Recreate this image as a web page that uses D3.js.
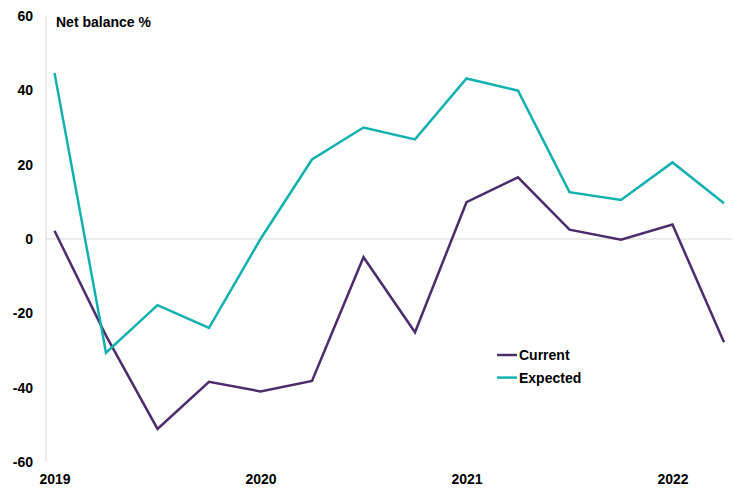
<!DOCTYPE html>
<html>
<head>
<meta charset="utf-8">
<script src="https://cdn.jsdelivr.net/npm/d3@7"></script>
<style>
  html, body { margin: 0; padding: 0; background: #ffffff; }
  svg { display: block; font-family: "Liberation Sans", Arial, sans-serif; }
</style>
</head>
<body>
<svg id="chart" width="737" height="491"></svg>
<script>
// Quarterly survey net balances, 2019 Q1 – 2022 Q2
const quarters = ["2019 Q1","2019 Q2","2019 Q3","2019 Q4","2020 Q1","2020 Q2","2020 Q3","2020 Q4",
                  "2021 Q1","2021 Q2","2021 Q3","2021 Q4","2022 Q1","2022 Q2"];
const current  = [2.2, -26, -51.1, -38.4, -41.0, -38.2, -4.9, -25.1, 9.9, 16.6, 2.5, -0.2, 3.9, -27.8];
const expected = [44.7, -30.6, -17.8, -23.9, 0, 21.4, 30.0, 26.8, 43.2, 39.9, 12.6, 10.5, 20.6, 9.6];
const yTicks = [60, 40, 20, 0, -20, -40, -60];
const yearLabels = ["2019", "2020", "2021", "2022"];
const yearStartIndex = [0, 4, 8, 12];

const seriesList = [
  { name: "Current",  values: current,  color: "#4b2d6b" },
  { name: "Expected", values: expected, color: "#12b1b0" }
];

const svg = d3.select("#chart");

const x = d3.scaleLinear().domain([0, quarters.length - 1]).range([54.5, 724]);
const y = d3.scaleLinear().domain([-60, 60]).range([462, 16]);

// vertical axis line
svg.append("line")
  .attr("x1", 46).attr("x2", 46)
  .attr("y1", y(60)).attr("y2", y(-60))
  .attr("stroke", "#d9d9d9").attr("stroke-width", 1);

// zero reference line
svg.append("line")
  .attr("x1", 46).attr("x2", 732)
  .attr("y1", y(0)).attr("y2", y(0))
  .attr("stroke", "#d9d9d9").attr("stroke-width", 1);

// y tick labels (plain hyphen for negatives)
const yAxis = d3.axisLeft(y).tickValues(yTicks).tickSize(0).tickPadding(0)
  .tickFormat(d => String(d));
const yG = svg.append("g").attr("transform", "translate(33,0)").call(yAxis);
yG.select(".domain").remove();
yG.selectAll("text")
  .attr("font-family", "Liberation Sans, Arial, sans-serif")
  .attr("font-size", 14).attr("font-weight", "bold").attr("fill", "#000");

// x year labels
const xAxis = d3.axisBottom(x).tickValues(yearStartIndex).tickSize(0).tickPadding(0)
  .tickFormat((d, i) => yearLabels[i]);
const xG = svg.append("g").attr("transform", "translate(0,474)").call(xAxis);
xG.select(".domain").remove();
xG.selectAll("text")
  .attr("font-family", "Liberation Sans, Arial, sans-serif")
  .attr("font-size", 14).attr("font-weight", "bold").attr("fill", "#000");

// axis title
svg.append("text")
  .attr("x", 56).attr("y", 27)
  .attr("font-size", 14).attr("font-weight", "bold").attr("fill", "#000")
  .text("Net balance %");

// series lines
const line = d3.line().x((d, i) => x(i)).y(d => y(d));
svg.selectAll("path.series")
  .data(seriesList)
  .join("path")
  .attr("class", "series")
  .attr("d", s => line(s.values))
  .attr("fill", "none")
  .attr("stroke", s => s.color)
  .attr("stroke-width", 2.5)
  .attr("stroke-linejoin", "miter");

// legend
const legend = svg.append("g").attr("transform", "translate(497,355)");
const item = legend.selectAll("g")
  .data(seriesList)
  .join("g")
  .attr("transform", (d, i) => `translate(0,${i * 22.6})`);
item.append("line")
  .attr("x1", 0).attr("x2", 20).attr("y1", 0).attr("y2", 0)
  .attr("stroke", d => d.color).attr("stroke-width", 2.5);
item.append("text")
  .attr("x", 22).attr("y", 5)
  .attr("font-size", 14).attr("font-weight", "bold").attr("fill", "#000")
  .text(d => d.name);
</script>
</body>
</html>
